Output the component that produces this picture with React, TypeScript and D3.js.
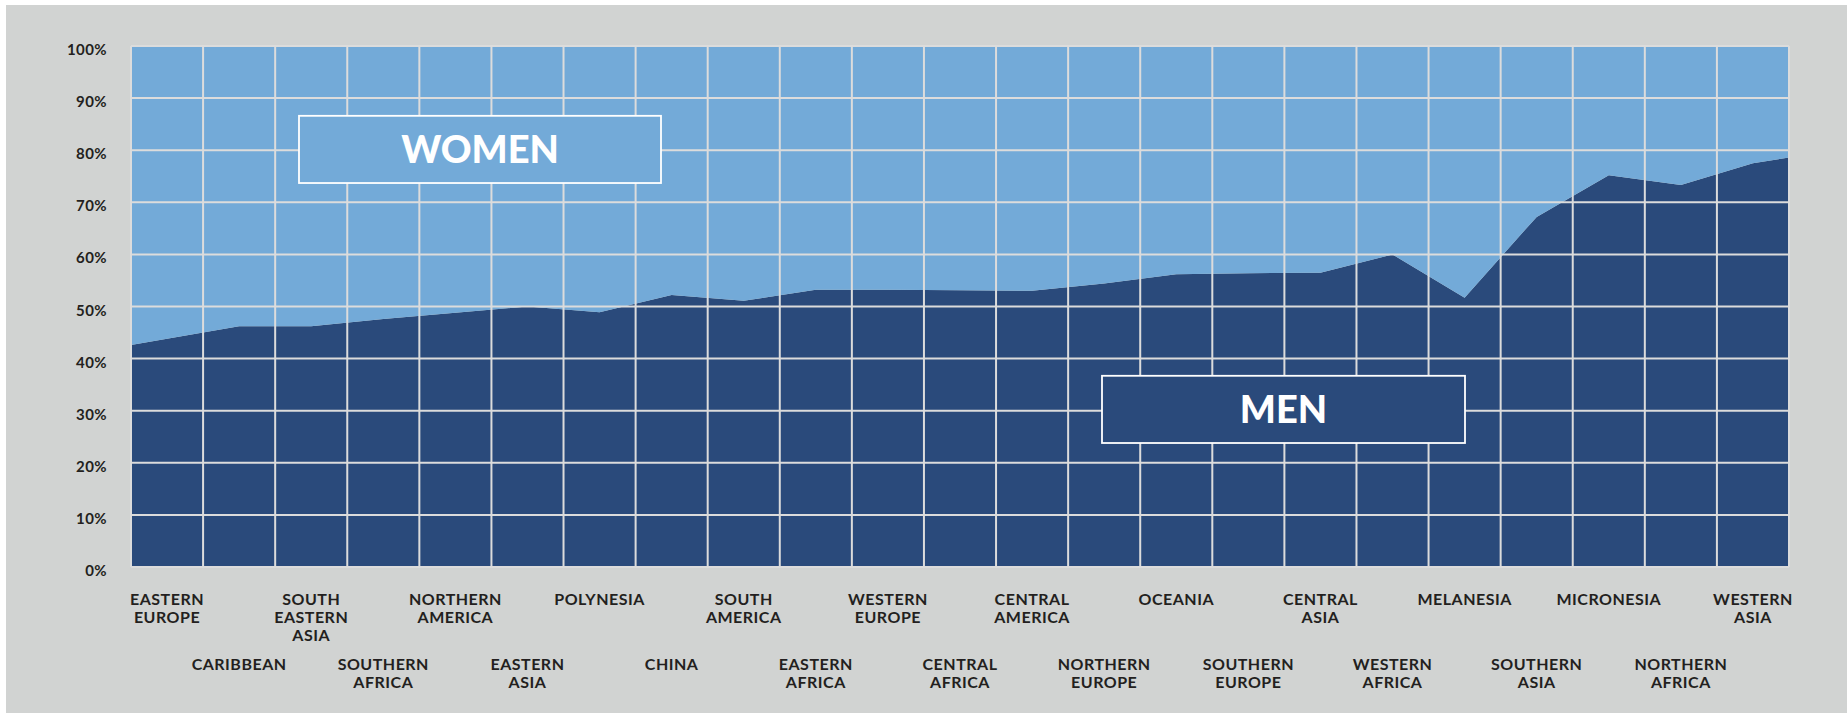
import React, { useEffect, useRef } from 'react';
import * as d3 from 'd3';

// regions, left to right; "\n" splits the label lines
const categories = [
  'EASTERN\nEUROPE', 'CARIBBEAN', 'SOUTH\nEASTERN\nASIA', 'SOUTHERN\nAFRICA',
  'NORTHERN\nAMERICA', 'EASTERN\nASIA', 'POLYNESIA', 'CHINA', 'SOUTH\nAMERICA',
  'EASTERN\nAFRICA', 'WESTERN\nEUROPE', 'CENTRAL\nAFRICA', 'CENTRAL\nAMERICA',
  'NORTHERN\nEUROPE', 'OCEANIA', 'SOUTHERN\nEUROPE', 'CENTRAL\nASIA',
  'WESTERN\nAFRICA', 'MELANESIA', 'SOUTHERN\nASIA', 'MICRONESIA',
  'NORTHERN\nAFRICA', 'WESTERN\nASIA',
];

// share of men (%)
const men = [
  43.8, 46.2, 46.2, 47.6, 48.8, 50.0, 48.9, 52.2, 51.1, 53.2, 53.2, 53.1,
  53.0, 54.4, 56.2, 56.4, 56.5, 60.0, 51.7, 67.2, 75.2, 73.3, 77.5,
];

// share of women (%)
const women = [
  56.2, 53.8, 53.8, 52.4, 51.2, 50.0, 51.1, 47.8, 48.9, 46.8, 46.8, 46.9,
  47.0, 45.6, 43.8, 43.6, 43.5, 40.0, 48.3, 32.8, 24.8, 26.7, 22.5,
];

// where the areas meet the left and right plot edges
const menEdges = [42.6, 78.6];
const womenEdges = [57.4, 21.4];

const yTicks = [0, 10, 20, 30, 40, 50, 60, 70, 80, 90, 100];

const App: React.FC = () => {
  const ref = useRef<SVGSVGElement | null>(null);

  useEffect(() => {
    const svg = d3.select(ref.current);
    svg.selectAll('*').remove();

    const width = 1847;
    const height = 718;
    const left = 131, right = 1789, top = 46, bottom = 567;
    const n = categories.length;

    const x = d3.scaleLinear().domain([-0.5, n - 0.5]).range([left, right]);
    const y = d3.scaleLinear().domain([0, 100]).range([bottom, top]);

    svg.attr('width', width).attr('height', height);

    svg.append('rect')
      .attr('x', 6).attr('y', 5)
      .attr('width', width - 6).attr('height', 708)
      .attr('fill', '#d1d3d2');

    const rows = [
      { i: -0.5, men: menEdges[0], women: womenEdges[0] },
      ...men.map((m, i) => ({ i, men: m, women: women[i] })),
      { i: n - 0.5, men: menEdges[1], women: womenEdges[1] },
    ];

    const stacked = d3.stack<any>().keys(['men', 'women'])(rows);
    const colors: Record<string, string> = { men: '#2a4a7b', women: '#73aad8' };

    const area = d3.area<any>()
      .x(d => x(d.data.i))
      .y0(d => y(d[0]))
      .y1(d => y(d[1]));

    svg.append('g')
      .selectAll('path')
      .data(stacked)
      .join('path')
      .attr('fill', d => colors[d.key])
      .attr('d', area);

    // grid
    const grid = svg.append('g')
      .attr('stroke', '#dcdcdc')
      .attr('stroke-width', 2);

    grid.selectAll('line.h')
      .data(yTicks)
      .join('line')
      .attr('class', 'h')
      .attr('x1', left).attr('x2', right)
      .attr('y1', d => y(d)).attr('y2', d => y(d));

    grid.selectAll('line.v')
      .data(d3.range(n + 1))
      .join('line')
      .attr('class', 'v')
      .attr('x1', d => x(d - 0.5)).attr('x2', d => x(d - 0.5))
      .attr('y1', top).attr('y2', bottom);

    // y labels
    svg.append('g')
      .selectAll('text')
      .data(yTicks)
      .join('text')
      .attr('x', 107)
      .attr('y', d => y(d) + 9)
      .attr('text-anchor', 'end')
      .attr('font-family', 'Lato, sans-serif')
      .attr('font-weight', 'bold')
      .attr('font-size', 15)
      .attr('letter-spacing', 0.4)
      .attr('fill', '#231f20')
      .text(d => `${d}%`);

    // category labels, alternating two rows
    const labels = svg.append('g')
      .attr('font-family', 'Lato, sans-serif')
      .attr('font-weight', 'bold')
      .attr('font-size', 16)
      .attr('letter-spacing', 0.5)
      .attr('fill', '#231f20')
      .attr('text-anchor', 'middle');

    categories.forEach((c, i) => {
      const y0 = i % 2 === 0 ? 605 : 670;
      const t = labels.append('text').attr('x', x(i)).attr('y', y0);
      c.split('\n').forEach((line, k) => {
        t.append('tspan')
          .attr('x', x(i))
          .attr('y', y0 + k * 18)
          .text(line);
      });
    });

    // series boxes
    const boxes = [
      { label: 'WOMEN', x0: 299, x1: 661, v0: 86.6, v1: 73.7, fill: colors.women },
      { label: 'MEN', x0: 1102, x1: 1465, v0: 36.7, v1: 23.8, fill: colors.men },
    ];

    const box = svg.append('g')
      .selectAll('g')
      .data(boxes)
      .join('g');

    box.append('rect')
      .attr('x', d => d.x0)
      .attr('y', d => y(d.v0))
      .attr('width', d => d.x1 - d.x0)
      .attr('height', d => y(d.v1) - y(d.v0))
      .attr('fill', d => d.fill)
      .attr('stroke', '#ffffff')
      .attr('stroke-width', 1.8);

    box.append('text')
      .attr('x', d => (d.x0 + d.x1) / 2)
      .attr('y', d => (y(d.v0) + y(d.v1)) / 2 + 13.5)
      .attr('text-anchor', 'middle')
      .attr('font-family', 'Lato, sans-serif')
      .attr('font-weight', 900)
      .attr('font-size', 38)
      .attr('fill', '#ffffff')
      .text(d => d.label);
  }, []);

  return (
    <div style={{ position: 'absolute', left: 0, top: 0 }}>
      <svg ref={ref}></svg>
    </div>
  );
};

export default App;
